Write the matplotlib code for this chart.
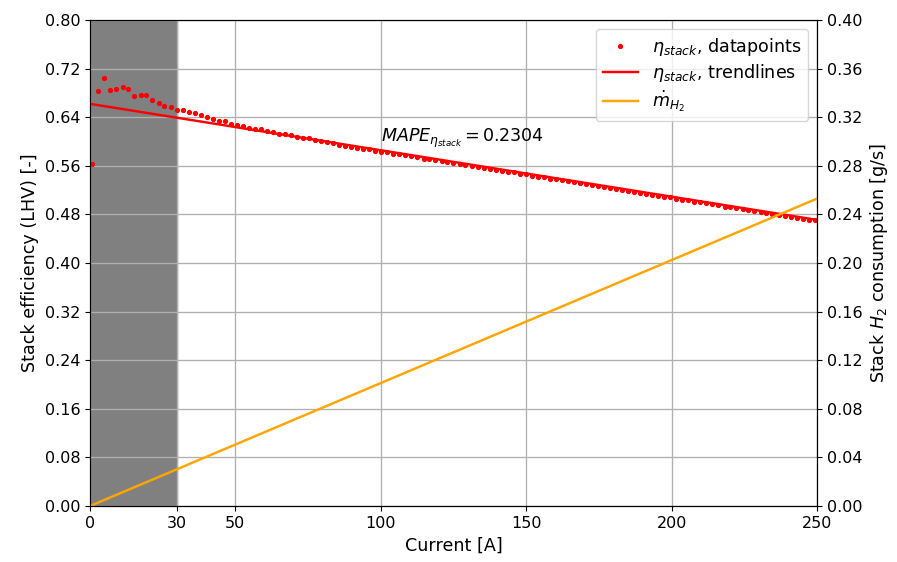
import matplotlib
matplotlib.use('Agg')
import matplotlib.pyplot as plt
import numpy as np

# MEASURED STACK EFFICIENCY

current = [0.8, 2.9, 4.9, 7.0, 9.1, 11.2, 13.2, 15.3, 17.4, 19.4,
           21.5, 23.6, 25.6, 27.7, 29.8, 31.9, 33.9, 36.0, 38.1, 40.1,
           42.2, 44.3, 46.3, 48.4, 50.5, 52.6, 54.6, 56.7, 58.8, 60.8,
           62.9, 65.0, 67.0, 69.1, 71.2, 73.3, 75.3, 77.4, 79.5, 81.5,
           83.6, 85.7, 87.7, 89.8, 91.9, 94.0, 96.0, 98.1, 100.2, 102.2,
           104.3, 106.4, 108.4, 110.5, 112.6, 114.7, 116.7, 118.8, 120.9, 122.9,
           125.0, 127.1, 129.1, 131.2, 133.3, 135.4, 137.4, 139.5, 141.6, 143.6,
           145.7, 147.8, 149.8, 151.9, 154.0, 156.1, 158.1, 160.2, 162.3, 164.3,
           166.4, 168.5, 170.5, 172.6, 174.7, 176.8, 178.8, 180.9, 183.0, 185.0,
           187.1, 189.2, 191.2, 193.3, 195.4, 197.5, 199.5, 201.6, 203.7, 205.7,
           207.8, 209.9, 211.9, 214.0, 216.1, 218.2, 220.2, 222.3, 224.4, 226.4,
           228.5, 230.6, 232.6, 234.7, 236.8, 238.9, 240.9, 243.0, 245.1, 247.1,
           249.2]

eta_stack = [0.563, 0.683, 0.704, 0.685, 0.686, 0.690, 0.686, 0.675, 0.677, 0.676,
             0.668, 0.664, 0.658, 0.657, 0.652, 0.652, 0.649, 0.647, 0.643, 0.640,
             0.637, 0.634, 0.634, 0.629, 0.627, 0.626, 0.623, 0.620, 0.620, 0.618,
             0.615, 0.613, 0.612, 0.610, 0.608, 0.606, 0.605, 0.603, 0.601, 0.599,
             0.597, 0.595, 0.593, 0.591, 0.590, 0.588, 0.587, 0.585, 0.583, 0.582,
             0.580, 0.579, 0.577, 0.576, 0.574, 0.572, 0.571, 0.569, 0.568, 0.566,
             0.565, 0.563, 0.561, 0.560, 0.558, 0.557, 0.555, 0.553, 0.552, 0.550,
             0.549, 0.547, 0.546, 0.544, 0.542, 0.541, 0.539, 0.538, 0.536, 0.535,
             0.533, 0.531, 0.530, 0.528, 0.527, 0.525, 0.523, 0.522, 0.520, 0.519,
             0.517, 0.516, 0.514, 0.512, 0.511, 0.509, 0.508, 0.506, 0.504, 0.503,
             0.501, 0.500, 0.498, 0.497, 0.495, 0.493, 0.492, 0.490, 0.489, 0.487,
             0.485, 0.484, 0.482, 0.481, 0.479, 0.478, 0.476, 0.474, 0.473, 0.471,
             0.470]

# LINEAR TREND AND HYDROGEN CONSUMPTION

trend_current = [0, 250]
trend_eta = [0.662, 0.471]

h2_current = [0, 250]
h2_flow = [0.0, 0.253]  # g/s

mape = 0.2304
low_current_limit = 30  # A

x_ticks = [0, 30, 50, 100, 150, 200, 250]


plt.rcParams['font.size'] = 11.5
plt.rcParams['axes.labelsize'] = 12.6
plt.rcParams['lines.linewidth'] = 1.75
plt.rcParams['grid.linewidth'] = 0.95

fig, ax = plt.subplots(figsize=(8.97, 5.62), dpi=100)
fig.subplots_adjust(left=0.1003, right=0.9108, top=0.9644, bottom=0.0996)

ax.axvspan(0, low_current_limit, color='gray')

l1, = ax.plot(current, eta_stack, '.', color='red', markersize=5.5,
              label=r'$\eta_{stack}$, datapoints')
l2, = ax.plot(trend_current, trend_eta, color='red',
              label=r'$\eta_{stack}$, trendlines')

ax.text(100, 0.6, r'$MAPE_{\eta_{stack}} = %.4f$' % mape, fontsize=12.6)

ax.set_xlim(0, 250)
ax.set_ylim(0, 0.8)
ax.set_xticks(x_ticks)
ax.set_yticks(np.arange(0, 0.81, 0.08))
ax.yaxis.set_major_formatter(plt.FormatStrFormatter('%.2f'))
ax.grid(True)
ax.set_xlabel('Current [A]')
ax.set_ylabel('Stack efficiency (LHV) [-]')

ax2 = ax.twinx()
l3, = ax2.plot(h2_current, h2_flow, color='orange',
               label=r'$\dot{m}_{H_2}$')
ax2.set_ylim(0, 0.4)
ax2.set_yticks(np.arange(0, 0.41, 0.04))
ax2.yaxis.set_major_formatter(plt.FormatStrFormatter('%.2f'))
ax2.set_ylabel('Stack $H_2$ consumption [g/s]')

ax2.legend(handles=[l1, l2, l3], loc='upper right', fontsize=12.6,
           labelspacing=0.25)

plt.savefig('out.png', dpi=100)
